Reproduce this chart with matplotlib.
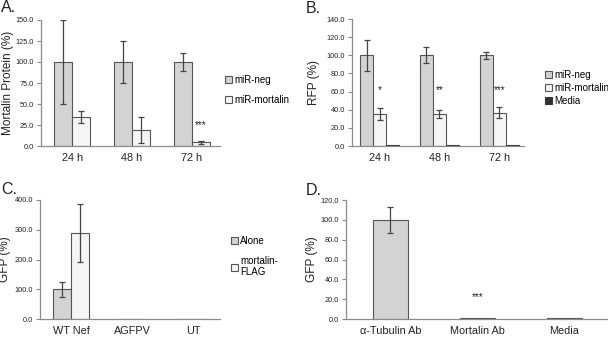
import matplotlib
matplotlib.use("Agg")
import matplotlib.pyplot as plt
import numpy as np

plt.rcParams['font.family'] = ['Liberation Sans', 'DejaVu Sans']

# ---- data ----
a_cats = ["24 h", "48 h", "72 h"]
a_neg = [100.0, 100.0, 100.0]
a_neg_err = [50.0, 25.0, 11.0]
a_mort = [34.5, 19.0, 4.5]
a_mort_err = [7.0, 15.5, 2.0]
a_stars = ["", "", "***"]

b_cats = ["24 h", "48 h", "72 h"]
b_neg = [100.0, 100.0, 100.0]
b_neg_err = [17.0, 9.0, 4.0]
b_mort = [35.5, 35.5, 36.5]
b_mort_err = [6.5, 4.5, 6.0]
b_media = [1.0, 1.0, 1.0]
b_stars = ["*", "**", "***"]

c_cats = ["WT Nef", "AGFPV", "UT"]
c_alone = [100.0, 1.0, 1.0]
c_alone_err = [25.0, 0.0, 0.0]
c_flag = [289.0, 1.0, 1.0]
c_flag_err = [99.0, 0.0, 0.0]

d_cats = ["α-Tubulin Ab", "Mortalin Ab", "Media"]
d_vals = [100.0, 1.0, 1.0]
d_err = [13.0, 0.0, 0.0]
d_stars = ["", "***", ""]

# ---- style ----
W, H = 608, 337
fig = plt.figure(figsize=(W / 100, H / 100), dpi=100)
C_NEG = "#d3d3d3"
C_MORT = "#f5f5f5"
C_MEDIA = "#333333"
EDGE = "#555555"
AXC = "#8c8c8c"
TXT = "#222222"
ERRK = dict(ecolor="#444444", elinewidth=0.9, capsize=2.5, capthick=0.9)
LEGK = dict(bbox_transform=fig.transFigure, frameon=False, fontsize=7,
            handlelength=0.7, handleheight=0.7, handletextpad=0.25,
            borderpad=0, borderaxespad=0, loc='upper left')


def px_axes(l, r, t, b):
    return fig.add_axes([l / W, 1 - b / H, (r - l) / W, (b - t) / H])


def nz(errs):
    e = [v if v else np.nan for v in errs]
    return [e, e]


def style(ax, ymax, step, xlim, cats, ylabel, ylx):
    ax.set_ylim(0, ymax)
    ax.set_xlim(*xlim)
    ticks = np.arange(0, ymax + step / 2, step)
    ax.set_yticks(ticks)
    ax.set_yticklabels([f"{v:.1f}" for v in ticks])
    ax.set_xticks(range(len(cats)))
    ax.set_xticklabels(cats, fontsize=7.8, color=TXT)
    ax.tick_params(axis='x', length=0, pad=5)
    ax.tick_params(axis='y', length=3, width=0.8, color=AXC, labelsize=5.3,
                   labelcolor=TXT, pad=2)
    for s in ("top", "right"):
        ax.spines[s].set_visible(False)
    for s in ("left", "bottom"):
        ax.spines[s].set_color(AXC)
        ax.spines[s].set_linewidth(0.9)
    ax.set_ylabel(ylabel, fontsize=8.5, color=TXT)
    pos = ax.get_position()
    ax.yaxis.set_label_coords((ylx / W - pos.x0) / pos.width, 0.5)


x = np.arange(3)

# ---- Panel A ----
axA = px_axes(41, 220, 20, 146)
w = 0.3
axA.bar(x - w / 2, a_neg, w, color=C_NEG, edgecolor=EDGE, linewidth=0.8,
        yerr=a_neg_err, error_kw=ERRK, label="miR-neg")
axA.bar(x + w / 2, a_mort, w, color=C_MORT, edgecolor=EDGE, linewidth=0.8,
        yerr=a_mort_err, error_kw=ERRK, label="miR-mortalin")
for i, s in enumerate(a_stars):
    if s:
        axA.text(x[i] + w / 2, a_mort[i] + a_mort_err[i] + 19, s, ha='center',
                 va='center', fontsize=7, color=TXT)
style(axA, 150, 25, (-0.52, 2.47), a_cats, "Mortalin Protein (%)", 14)
axA.legend(bbox_to_anchor=(225 / W, 1 - 75 / H), labelspacing=1.0, **LEGK)

# ---- Panel B ----
axB = px_axes(352, 524, 19, 146)
w = 0.217
axB.bar(x - w, b_neg, w, color=C_NEG, edgecolor=EDGE, linewidth=0.8,
        yerr=b_neg_err, error_kw=ERRK, label="miR-neg")
axB.bar(x, b_mort, w, color=C_MORT, edgecolor=EDGE, linewidth=0.8,
        yerr=b_mort_err, error_kw=ERRK, label="miR-mortalin")
axB.bar(x + w, b_media, w, color=C_MEDIA, edgecolor=C_MEDIA, linewidth=0.8,
        label="Media")
for i, s in enumerate(b_stars):
    axB.text(x[i], 62, s, ha='center', va='center', fontsize=7, color=TXT)
style(axB, 140, 20, (-0.46, 2.41), b_cats, "RFP (%)", 320)
axB.legend(bbox_to_anchor=(545 / W, 1 - 70 / H), labelspacing=0.3, **LEGK)

# ---- Panel C ----
axC = px_axes(40, 220, 200, 319)
w = 0.29
axC.bar(x - w / 2, c_alone, w, color=C_NEG, edgecolor=EDGE, linewidth=0.8,
        yerr=nz(c_alone_err), error_kw=ERRK, label="Alone")
axC.bar(x + w / 2, c_flag, w, color=C_MORT, edgecolor=EDGE, linewidth=0.8,
        yerr=nz(c_flag_err), error_kw=ERRK, label="mortalin-\nFLAG")
style(axC, 400, 100, (-0.51, 2.44), c_cats, "GFP (%)", 11)
axC.legend(bbox_to_anchor=(231 / W, 1 - 236 / H), labelspacing=1.0, **LEGK)

# ---- Panel D ----
axD = px_axes(346, 608, 200, 319)
w = 0.4
axD.bar(x, d_vals, w, color=C_NEG, edgecolor=EDGE, linewidth=0.8,
        yerr=nz(d_err), error_kw=ERRK)
for i, s in enumerate(d_stars):
    if s:
        axD.text(x[i], 22, s, ha='center', va='center', fontsize=7, color=TXT)
style(axD, 120, 20, (-0.51, 2.5), d_cats, "GFP (%)", 318)

# ---- panel letters ----
for lbl, px, py in [("A.", 1, 0), ("B.", 306, 1), ("C.", 1, 182), ("D.", 306, 183)]:
    fig.text(px / W, 1 - py / H, lbl, fontsize=11.5, color=TXT, ha='left', va='top')

fig.savefig("out.png", dpi=100)
